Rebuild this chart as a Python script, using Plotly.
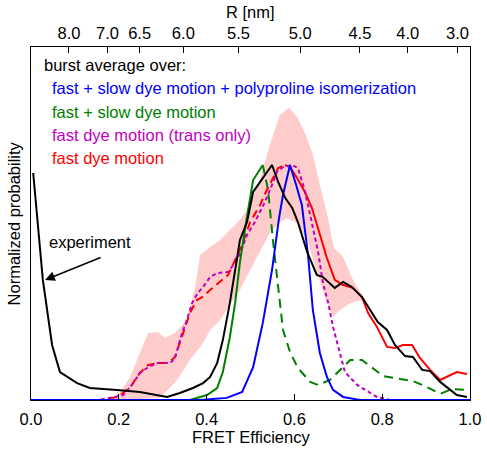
import plotly.graph_objects as go

# ---------------- data ----------------
exp_E = [0.005, 0.027, 0.048, 0.066, 0.105, 0.134, 0.196, 0.248, 0.310, 0.339, 0.369, 0.392, 0.408, 0.424,
         0.437, 0.453, 0.465, 0.476, 0.492, 0.506, 0.522, 0.549, 0.563, 0.579, 0.595, 0.608, 0.629, 0.651,
         0.665, 0.692, 0.711, 0.731, 0.754, 0.772, 0.790, 0.811, 0.829, 0.852, 0.870, 0.891, 0.909, 0.932,
         0.950, 0.970, 0.993]
exp_P = [0.966, 0.511, 0.234, 0.119, 0.072, 0.051, 0.043, 0.034, 0.013, 0.030, 0.051, 0.072, 0.098, 0.157,
         0.255, 0.413, 0.553, 0.681, 0.757, 0.885, 0.928, 1.000, 0.928, 0.860, 0.817, 0.757, 0.630, 0.532,
         0.523, 0.477, 0.502, 0.481, 0.438, 0.383, 0.332, 0.298, 0.234, 0.187, 0.183, 0.128, 0.123, 0.077,
         0.051, 0.021, 0.013]

blue_E = [0.0, 0.385, 0.446, 0.481, 0.506, 0.528, 0.549, 0.565, 0.574, 0.590, 0.604, 0.617, 0.631, 0.642,
          0.658, 0.674, 0.688, 0.711, 0.749, 1.0]
blue_P = [0.0, 0.0, 0.009, 0.034, 0.140, 0.328, 0.553, 0.774, 0.872, 1.000, 0.915, 0.830, 0.617, 0.383,
          0.200, 0.098, 0.043, 0.013, 0.0, 0.0]

green_solid_E = [0.0, 0.362, 0.401, 0.424, 0.437, 0.453, 0.465, 0.476, 0.490, 0.506, 0.528]
green_solid_P = [0.0, 0.0, 0.021, 0.051, 0.119, 0.268, 0.413, 0.587, 0.757, 0.936, 1.000]
green_dash_E = [0.528, 0.540, 0.551, 0.563, 0.574, 0.590, 0.608, 0.636, 0.654, 0.681, 0.704, 0.727, 0.754,
                0.777, 0.802, 0.841, 0.870, 0.902, 0.932, 0.959, 0.993]
green_dash_P = [1.000, 0.894, 0.681, 0.481, 0.298, 0.204, 0.136, 0.077, 0.064, 0.085, 0.128, 0.170, 0.170,
                0.136, 0.102, 0.089, 0.081, 0.055, 0.026, 0.047, 0.043]

magenta_E = [0.0, 0.157, 0.210, 0.230, 0.248, 0.267, 0.289, 0.317, 0.328, 0.335, 0.344, 0.355, 0.367, 0.380,
             0.392, 0.408, 0.424, 0.449, 0.469, 0.481, 0.492, 0.510, 0.533, 0.549, 0.560, 0.574, 0.595, 0.608,
             0.620, 0.631, 0.642, 0.654, 0.665, 0.677, 0.688, 0.699, 0.715, 0.743, 0.768, 0.788, 0.818]
magenta_P = [0.0, 0.0, 0.021, 0.064, 0.115, 0.140, 0.157, 0.157, 0.179, 0.226, 0.285, 0.340, 0.413, 0.455,
             0.481, 0.523, 0.540, 0.545, 0.596, 0.647, 0.702, 0.757, 0.843, 0.915, 0.970, 0.991, 1.000, 0.987,
             0.915, 0.830, 0.732, 0.630, 0.498, 0.413, 0.311, 0.234, 0.119, 0.064, 0.034, 0.013, 0.0]

red_dash_E = [0.0, 0.157, 0.198, 0.226, 0.248, 0.267, 0.287, 0.312, 0.328, 0.339, 0.351, 0.362, 0.378, 0.390,
              0.408, 0.431, 0.449, 0.465, 0.481, 0.499, 0.522, 0.535, 0.549, 0.563, 0.579]
red_dash_P = [0.0, 0.0, 0.013, 0.055, 0.115, 0.149, 0.157, 0.157, 0.183, 0.243, 0.311, 0.370, 0.426, 0.438,
              0.468, 0.502, 0.532, 0.596, 0.660, 0.757, 0.830, 0.885, 0.936, 0.987, 1.000]
red_solid_E = [0.579, 0.590, 0.606, 0.624, 0.640, 0.658, 0.674, 0.692, 0.711, 0.733, 0.754, 0.768, 0.788,
               0.811, 0.829, 0.847, 0.868, 0.886, 0.909, 0.932, 0.948, 0.970, 0.993]
red_solid_P = [1.000, 0.991, 0.945, 0.885, 0.817, 0.702, 0.604, 0.511, 0.489, 0.477, 0.438, 0.370, 0.311,
               0.226, 0.221, 0.234, 0.234, 0.179, 0.128, 0.085, 0.098, 0.119, 0.111]

band_up_E = [0.191, 0.226, 0.248, 0.267, 0.289, 0.305, 0.328, 0.355, 0.374, 0.385, 0.408, 0.431, 0.453, 0.476,
             0.499, 0.522, 0.544, 0.567, 0.588, 0.608, 0.626, 0.642, 0.658, 0.674, 0.690, 0.711, 0.731, 0.754,
             0.763]
band_up_P = [0.0, 0.098, 0.200, 0.285, 0.289, 0.264, 0.285, 0.340, 0.481, 0.617, 0.651, 0.681, 0.723, 0.766,
             0.830, 0.945, 1.085, 1.213, 1.243, 1.200, 1.128, 1.043, 0.915, 0.796, 0.647, 0.609, 0.519, 0.447,
             0.426]
band_lo_E = [0.198, 0.294, 0.333, 0.362, 0.392, 0.408, 0.431, 0.460, 0.476, 0.515, 0.544, 0.567, 0.583, 0.606,
             0.629, 0.651, 0.674, 0.688, 0.704, 0.727, 0.754, 0.763]
band_lo_P = [0.0, 0.009, 0.085, 0.170, 0.243, 0.298, 0.340, 0.426, 0.468, 0.609, 0.711, 0.757, 0.774, 0.753,
             0.681, 0.545, 0.413, 0.353, 0.383, 0.413, 0.426, 0.426]

R_ticks = [8.0, 7.0, 6.5, 6.0, 5.5, 5.0, 4.5, 4.0, 3.0]
R0 = 5.4  # Foerster radius used for the top axis (nm)

legend_labels = ["fast + slow dye motion + polyproline isomerization",
                 "fast + slow dye motion",
                 "fast dye motion (trans only)",
                 "fast dye motion"]

BLUE = "#0000FF"
GREEN = "#008000"
MAGENTA = "#BF00BF"
RED = "#FF0000"
FONT = "Liberation Sans, Arial, sans-serif"
FS = 16.5

fig = go.Figure()

# shaded band
fig.add_trace(go.Scatter(x=band_up_E + band_lo_E[::-1], y=band_up_P + band_lo_P[::-1],
                         fill="toself", fillcolor="rgb(255,204,204)", mode="lines",
                         line=dict(width=0), hoverinfo="skip", showlegend=False))

lw = 2
fig.add_trace(go.Scatter(x=green_dash_E, y=green_dash_P, mode="lines",
                         line=dict(color=GREEN, width=lw, dash="9px,6px"), showlegend=False))
fig.add_trace(go.Scatter(x=red_dash_E, y=red_dash_P, mode="lines",
                         line=dict(color=RED, width=lw, dash="8px,5px"), showlegend=False))
fig.add_trace(go.Scatter(x=red_solid_E, y=red_solid_P, mode="lines",
                         line=dict(color=RED, width=lw), showlegend=False))
fig.add_trace(go.Scatter(x=magenta_E, y=magenta_P, mode="lines",
                         line=dict(color=MAGENTA, width=lw, dash="4px,3px"), showlegend=False))
fig.add_trace(go.Scatter(x=green_solid_E, y=green_solid_P, mode="lines",
                         line=dict(color=GREEN, width=lw), showlegend=False))
fig.add_trace(go.Scatter(x=blue_E, y=blue_P, mode="lines",
                         line=dict(color=BLUE, width=lw), showlegend=False))
fig.add_trace(go.Scatter(x=exp_E, y=exp_P, mode="lines",
                         line=dict(color="black", width=lw), showlegend=False))
# invisible trace to carry the top (R) axis
fig.add_trace(go.Scatter(x=[0, 1], y=[0, 0], xaxis="x2", mode="lines",
                         line=dict(width=0, color="rgba(0,0,0,0)"), hoverinfo="skip", showlegend=False))

top_vals = [1.0 / (1.0 + (r / R0) ** 6) for r in R_ticks]

fig.update_layout(
    width=487, height=451,
    margin=dict(l=31, r=17, t=47, b=51, autoexpand=False),
    paper_bgcolor="white", plot_bgcolor="white",
    font=dict(family=FONT, size=FS, color="black"),
    xaxis=dict(range=[0, 1], tickvals=[0, 0.2, 0.4, 0.6, 0.8, 1.0],
               ticktext=["0.0", "0.2", "0.4", "0.6", "0.8", "1.0"], automargin=False,
               ticks="inside", ticklen=6, tickcolor="black", showgrid=False, zeroline=False,
               showline=True, linecolor="black", linewidth=1, ticklabelstandoff=4),
    xaxis2=dict(range=[0, 1], overlaying="x", side="top", tickvals=top_vals,
                ticktext=["%.1f" % r for r in R_ticks], automargin=False,
                ticks="inside", ticklen=6, tickcolor="black", showgrid=False, zeroline=False,
                showline=True, linecolor="black", linewidth=1),
    yaxis=dict(range=[0, 1.502], showticklabels=False, ticks="", showgrid=False, zeroline=False,
               showline=True, linecolor="black", linewidth=1, mirror=True, automargin=False),
)

# axis titles
fig.add_annotation(xref="paper", yref="paper", x=0.5, y=-0.105, text="FRET Efficiency", showarrow=False,
                   xanchor="center", yanchor="middle", font=dict(size=FS))
fig.add_annotation(xref="paper", yref="paper", x=0.5, y=1.099, text="R [nm]", showarrow=False,
                   xanchor="center", yanchor="middle", font=dict(size=FS))
fig.add_annotation(xref="paper", yref="paper", x=-0.039, y=0.5, text="Normalized probability",
                   showarrow=False, textangle=-90, xanchor="center", yanchor="middle", font=dict(size=FS))

# legend-like texts
fig.add_annotation(xref="paper", yref="paper", x=0.025, y=0.949, text="burst average over:",
                   showarrow=False, xanchor="left", yanchor="middle", font=dict(size=FS, color="black"))
for lab, col, yy in zip(legend_labels, [BLUE, GREEN, MAGENTA, RED], [0.884, 0.816, 0.751, 0.686]):
    fig.add_annotation(xref="paper", yref="paper", x=0.043, y=yy, text=lab, showarrow=False,
                       xanchor="left", yanchor="middle", font=dict(size=FS, color=col))

fig.add_annotation(xref="paper", yref="paper", x=0.134, y=0.448, text="experiment", showarrow=False,
                   xanchor="center", yanchor="middle", font=dict(size=FS, color="black"))
fig.add_annotation(x=0.032, y=0.511, ax=0.162, ay=0.609, axref="x", ayref="y", text="",
                   showarrow=True, arrowhead=2, arrowsize=1.3, arrowwidth=1.5, arrowcolor="black")

# remove the default page margin so the figure sits at the window's top-left corner
fig.write_html("out.html", config={"displayModeBar": False},
               post_script="document.body.style.margin='0';")
